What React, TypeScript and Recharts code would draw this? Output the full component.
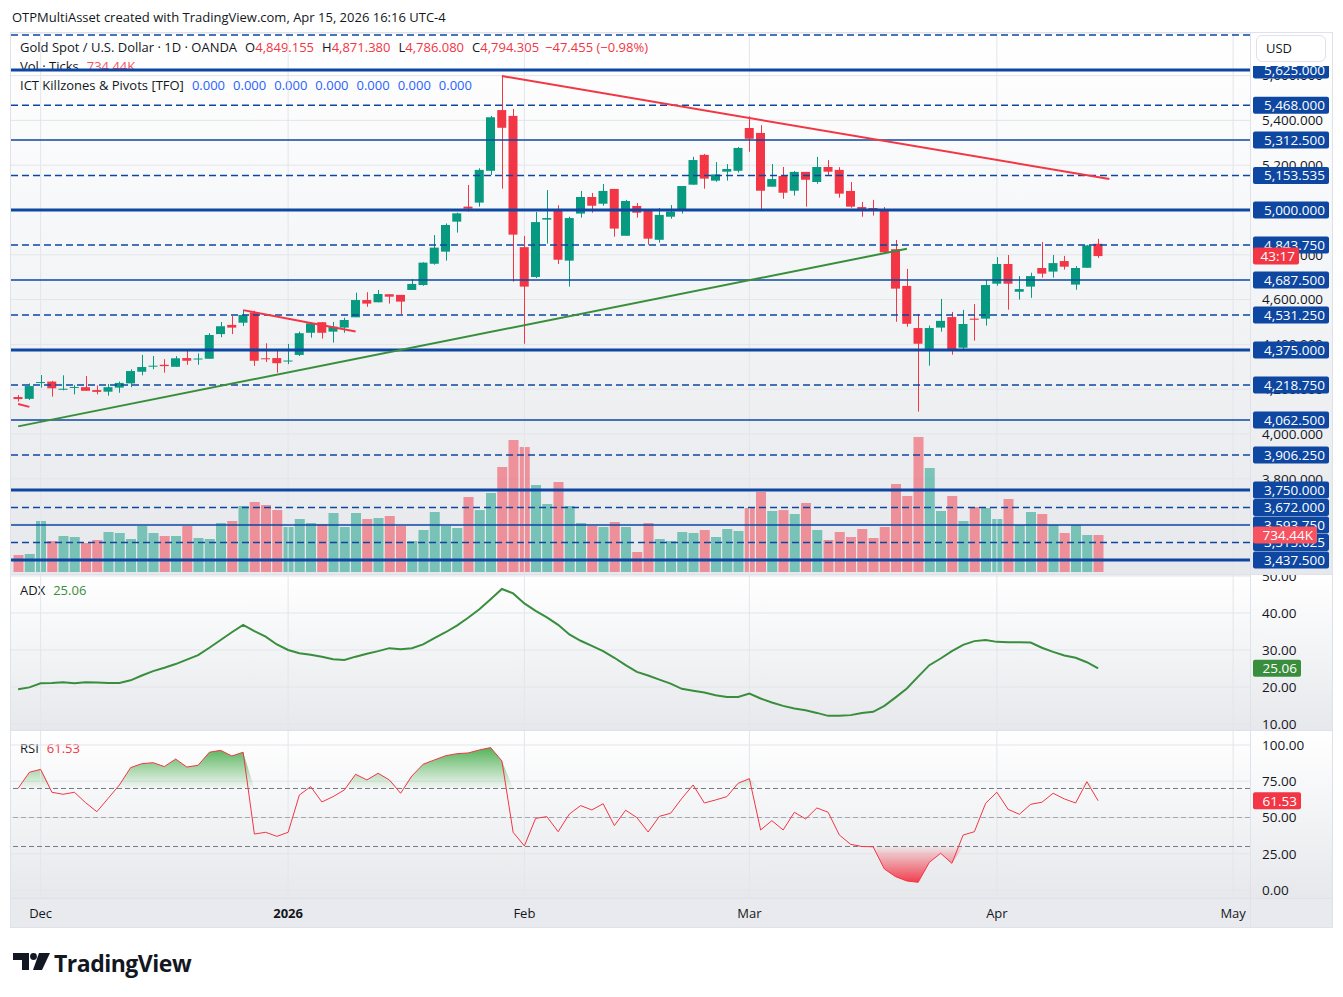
import React from 'react';
import {
  ComposedChart,
  Bar,
  Line,
  Area,
  XAxis,
  YAxis,
  CartesianGrid,
  ReferenceLine,
  Cell,
} from 'recharts';

const FONT = '"Open Sans", Roboto, "Noto Sans", "DejaVu Sans", Arial, sans-serif';
const TEXT = '#131722';
const UP = '#089981';
const DOWN = '#f23645';
const UP_VOL = 'rgba(8, 153, 129, 0.5)';
const DOWN_VOL = 'rgba(242, 54, 69, 0.5)';
const VOL_TAG = '#f7525f';
const PIVOT = '#0d47a1';
const ADX_COLOR = '#388e3c';
const GRID = '#e3e5eb';
const FRAME = '#dfe2ea';
const TFO_BLUE = '#2962ff';

// XAUUSD daily bars, Nov 27 2025 .. Apr 15 2026
const opens = [
  4165, 4157, 4228, 4234, 4199, 4207, 4209, 4196, 4189, 4207,
  4226, 4278, 4302, 4309, 4300, 4339, 4334, 4336, 4446, 4487,
  4497, 4543, 4338, 4339, 4325, 4353, 4452, 4499, 4457, 4475,
  4521, 4598, 4588, 4624, 4621, 4643, 4665, 4760, 4814, 4948,
  5015, 5033, 5175, 5446, 5420, 4834, 4701, 4957, 4997, 4774,
  4984, 5058, 5028, 5094, 4885, 5018, 4997, 4867, 4970, 4997,
  5113, 5246, 5131, 5171, 5175, 5366, 5344, 5104, 5152, 5086,
  5170, 5125, 5192, 5179, 5085, 5013, 5009, 5001, 4825, 4661,
  4473, 4380, 4475, 4522, 4385, 4515, 4515, 4671, 4759, 4635,
  4658, 4741, 4725, 4772, 4667, 4742, 4849.155,
];
const highs = [
  4174, 4226, 4263, 4237, 4262, 4219, 4259, 4217, 4223, 4234,
  4289, 4353, 4348, 4334, 4348, 4375, 4360, 4450, 4500, 4527,
  4550, 4550, 4405, 4375, 4402, 4457, 4497, 4500, 4500, 4519,
  4631, 4633, 4643, 4624, 4621, 4692, 4767, 4888, 4940, 4988,
  5112, 5186, 5420, 5598, 5451, 4884, 4991, 5089, 5021, 4970,
  5085, 5076, 5116, 5094, 5045, 5031, 5001, 5009, 5022, 5107,
  5237, 5250, 5214, 5205, 5281, 5418, 5379, 5205, 5192, 5174,
  5170, 5237, 5223, 5191, 5125, 5036, 5045, 5013, 4866, 4737,
  4536, 4484, 4603, 4545, 4554, 4580, 4688, 4790, 4799, 4705,
  4720, 4857, 4799, 4795, 4750, 4844, 4871.38,
];
const lows = [
  4145, 4152, 4207, 4167, 4195, 4177, 4192, 4177, 4171, 4184,
  4209, 4262, 4289, 4274, 4300, 4309, 4309, 4336, 4432, 4446,
  4482, 4304, 4321, 4274, 4312, 4348, 4430, 4426, 4408, 4452,
  4521, 4568, 4588, 4582, 4536, 4643, 4662, 4756, 4774, 4899,
  4993, 5015, 5156, 5095, 4680, 4403, 4696, 4850, 4759, 4658,
  4966, 4988, 5019, 4881, 4885, 4966, 4845, 4854, 4961, 4984,
  5113, 5095, 5126, 5131, 5167, 5260, 4997, 5104, 5050, 5064,
  5015, 5117, 5152, 5055, 5010, 4970, 4975, 4807, 4501, 4479,
  4100, 4305, 4457, 4354, 4375, 4417, 4484, 4662, 4555, 4600,
  4608, 4698, 4698, 4734, 4644, 4742, 4786.08,
];
const closes = [
  4156, 4214, 4232, 4204, 4202, 4210, 4193, 4188, 4209, 4228,
  4281, 4299, 4305, 4303, 4338, 4327, 4337, 4442, 4481, 4475,
  4531, 4327, 4334, 4316, 4328, 4450, 4494, 4452, 4479, 4509,
  4598, 4582, 4625, 4613, 4591, 4670, 4765, 4832, 4933, 4985,
  5006, 5179, 5414, 5367, 4890, 4658, 4946, 4964, 4778, 4964,
  5058, 5019, 5085, 4917, 5040, 4988, 4872, 4978, 4993, 5107,
  5223, 5140, 5159, 5183, 5277, 5318, 5086, 5138, 5077, 5170,
  5135, 5192, 5171, 5073, 5015, 5003, 5003, 4811, 4649, 4492,
  4403, 4473, 4505, 4376, 4491, 4510, 4665, 4759, 4671, 4647,
  4705, 4716, 4763, 4747, 4741, 4841.76, 4794.305,
];
// tick volume, thousands
const volumesK = [
  337, 357, 1012, 615, 715, 695, 575, 635, 794, 774,
  655, 913, 774, 715, 715, 913, 675, 655, 973, 1012,
  1310, 1390, 1330, 1230, 893, 1052, 973, 953, 1171, 893,
  1171, 1052, 1072, 1112, 913, 615, 834, 1191, 913, 873,
  1489, 1230, 1568, 2084, 2620, 2481, 1727, 1350, 1786, 1310,
  973, 913, 893, 992, 893, 397, 973, 655, 615, 794,
  774, 834, 695, 853, 814, 1270, 1588, 1211, 1230, 1151,
  1370, 834, 635, 794, 695, 853, 675, 893, 1747, 1509,
  2680, 2064, 1211, 1509, 1012, 1290, 1270, 1052, 1449, 933,
  1191, 1151, 933, 774, 933, 734, 734.44,
];
const adxValues = [
  19.4, 19.9, 21.0, 21.1, 21.3, 21.0, 21.3, 21.2, 21.1, 21.1,
  21.8, 23.1, 24.3, 25.2, 26.2, 27.4, 28.6, 30.6, 32.7, 34.8,
  36.8, 35.1, 33.6, 31.5, 30.0, 29.1, 28.7, 28.2, 27.5, 27.3,
  28.2, 29.0, 29.7, 30.5, 30.2, 30.5, 31.5, 33.2, 34.8, 36.6,
  38.7, 41.0, 43.7, 46.5, 45.3, 42.6, 40.6, 38.8, 36.8, 34.2,
  32.5, 31.1, 29.7, 27.9, 25.9, 24.1, 23.1, 22.0, 20.9, 19.5,
  19.0, 18.5, 17.8, 17.3, 17.3, 18.2, 16.9, 15.8, 14.9, 14.2,
  13.7, 13.0, 12.2, 12.2, 12.4, 13.0, 13.3, 14.9, 17.2, 19.6,
  22.8, 25.9, 27.7, 29.7, 31.4, 32.4, 32.7, 32.2, 32.1, 32.1,
  32.0, 30.6, 29.5, 28.5, 27.9, 26.7, 25.06,
];
const rsiValues = [
  70.1, 81.2, 83.2, 67.4, 66.0, 67.4, 60.2, 54.0, 63.2, 72.4,
  84.4, 87.1, 87.8, 85.1, 90.3, 84.8, 86.0, 95.0, 96.3, 92.4,
  95.0, 38.6, 39.8, 37.0, 39.8, 65.5, 71.3, 60.7, 64.4, 69.0,
  79.8, 75.9, 80.5, 75.9, 66.7, 78.6, 86.7, 89.7, 92.6, 94.0,
  94.5, 96.6, 98.2, 89.0, 39.8, 30.4, 49.4, 50.6, 40.2, 52.4,
  58.2, 55.2, 59.5, 44.4, 55.0, 49.9, 40.0, 50.8, 52.9, 63.2,
  72.4, 60.0, 62.1, 64.4, 73.6, 76.8, 41.4, 47.8, 41.4, 53.6,
  49.0, 56.6, 53.6, 37.9, 31.5, 30.0, 29.8, 14.5, 9.2, 6.2,
  5.3, 19.1, 25.3, 18.4, 37.9, 40.2, 59.8, 67.4, 55.6, 52.2,
  59.1, 60.5, 66.7, 62.8, 60.0, 74.7, 61.53,
];
const tfoValues = [0, 0, 0, 0, 0, 0, 0];

// empty daily slots to the start of May
const futureBars = 13;
const monthTicks = [2, 24, 45, 65, 87, 108];
const monthLabels = ['Dec', '2026', 'Feb', 'Mar', 'Apr', 'May'];

const priceTicks = [3600, 3800, 4000, 4200, 4400, 4600, 4800, 5000, 5200, 5400, 5600];
const adxTicks = [10, 20, 30, 40, 50];
const rsiTicks = [0, 25, 50, 75, 100];

// ICT pivot levels
const pivotsMajor = [5625, 5000, 4375, 3750, 3437.5];
const pivotsMinor = [5312.5, 4687.5, 4062.5, 3593.75];
const pivotsDashed = [5781.25, 5468, 5153.535, 4843.75, 4531.25, 4218.75, 3906.25, 3672, 3515.625];

// hand-drawn trend lines: [bar index, price]
const resistanceLine = [[43, 5598], [97, 5138]];
const supportLine = [[0, 4034], [79, 4827]];
const novLine = [[0, 4134], [1, 4121]];
const decLine = [[20, 4553], [30, 4458]];

const countdown = '43:17';

// pane geometry
const FRAME_W = 1323;
const PLOT_W = 1240;
const AXIS_W = 83;
const MAIN_TOP = 33;
const MAIN_H = 542;
const ADX_TOP = 575;
const ADX_H = 155;
const RSI_TOP = 730;
const RSI_H = 168;
const TIME_H = 30;
const X_PAD = { left: 2.5, right: 0 };
const NO_MARGIN = { top: 0, right: 0, bottom: 0, left: 0 };
const PRICE_DOMAIN: [number, number] = [3370.6, 5790.1];
const VOL_DOMAIN: [number, number] = [-59.6, 10699];
const ADX_DOMAIN: [number, number] = [8.38, 50.27];
const RSI_DOMAIN: [number, number] = [-5.52, 110.34];

const fmt3 = (v: number) =>
  v.toLocaleString('en-US', { minimumFractionDigits: 3, maximumFractionDigits: 3 });
const fmt2 = (v: number) => v.toFixed(2);
const fmtK = (v: number) => `${v.toFixed(2)}K`;

const last = opens.length - 1;

const rows: any[] = Array.from({ length: opens.length + futureBars }, (_, i) => {
  const r: any = { i };
  if (i < opens.length) {
    r.o = opens[i];
    r.h = highs[i];
    r.l = lows[i];
    r.c = closes[i];
    r.range = [lows[i], highs[i]];
    r.v = volumesK[i];
    r.adx = adxValues[i];
    r.rsi = rsiValues[i];
    r.rsiHi = [70, Math.max(70, rsiValues[i])];
    r.rsiLo = [Math.min(30, rsiValues[i]), 30];
  }
  return r;
});
const putLine = (key: string, pts: number[][]) => {
  pts.forEach(([i, p]) => {
    rows[i][key] = p;
  });
};
putLine('resistance', resistanceLine);
putLine('support', supportLine);
putLine('novLine', novLine);
putLine('decLine', decLine);

const layer: React.CSSProperties = { position: 'absolute', left: 0, top: 0 };
const paneBg = 'linear-gradient(to bottom, #ffffff 0%, #f4f5f7 45%, #e7e8eb 100%)';

function Candle(props: any) {
  const { x, y, width, height, payload } = props;
  if (!payload || payload.o == null || height == null) return null;
  const { o, h, l, c } = payload;
  const color = c >= o ? UP : DOWN;
  const k = h > l ? height / (h - l) : 0;
  const yO = y + (h - o) * k;
  const yC = y + (h - c) * k;
  const top = Math.min(yO, yC);
  const bh = Math.max(1, Math.abs(yO - yC));
  const cx = Math.round(x + width / 2) + 0.5;
  return (
    <g>
      <line x1={cx} x2={cx} y1={y} y2={y + height} stroke={color} strokeWidth={1} />
      <rect x={x} y={top} width={width} height={bh} fill={color} />
    </g>
  );
}

function AxisTag({ viewBox, txt, bg, w = 76 }: any) {
  if (!viewBox) return null;
  const x = viewBox.x + viewBox.width + 3;
  const y = viewBox.y;
  return (
    <g>
      <rect x={x} y={y - 8.5} width={w} height={17} rx={2} fill={bg} />
      <text
        x={x + w - 4}
        y={y}
        dy="0.36em"
        textAnchor="end"
        fontSize={13.5}
        fontFamily={FONT}
        fill="#ffffff"
      >
        {txt}
      </text>
    </g>
  );
}

const axisTick = { fill: TEXT, fontSize: 13.5, fontFamily: FONT };

function PriceLegend() {
  const prev = closes[last - 1];
  const chg = closes[last] - prev;
  const pct = (chg / prev) * 100;
  const sign = chg < 0 ? '\u2212' : '+';
  const col = chg < 0 ? DOWN : UP;
  const item = (k: string, v: number) => (
    <span style={{ marginLeft: 8 }}>
      {k}
      <span style={{ color: col }}>{fmt3(v)}</span>
    </span>
  );
  return (
    <div
      style={{
        position: 'absolute',
        left: 10,
        top: 4.5,
        fontSize: 13,
        lineHeight: '19px',
        color: TEXT,
        whiteSpace: 'nowrap',
      }}
    >
      <div>
        Gold Spot / U.S. Dollar · 1D · OANDA
        {item('O', opens[last])}
        {item('H', highs[last])}
        {item('L', lows[last])}
        {item('C', closes[last])}
        <span style={{ color: col, marginLeft: 6 }}>
          {sign}
          {fmt3(Math.abs(chg))} ({sign}
          {Math.abs(pct).toFixed(2)}%)
        </span>
      </div>
      <div>
        Vol · Ticks<span style={{ color: VOL_TAG, marginLeft: 8 }}>{fmtK(volumesK[last])}</span>
      </div>
      <div>
        ICT Killzones &amp; Pivots [TFO]
        {tfoValues.map((v, k) => (
          <span key={k} style={{ color: TFO_BLUE, marginLeft: 8 }}>
            {fmt3(v)}
          </span>
        ))}
      </div>
    </div>
  );
}

function MainPane() {
  const allPivots = [...pivotsMajor, ...pivotsMinor, ...pivotsDashed].sort((a, b) => b - a);
  return (
    <div
      style={{
        position: 'absolute',
        left: 10,
        top: MAIN_TOP,
        width: FRAME_W,
        height: MAIN_H,
        overflow: 'hidden',
        background: paneBg,
      }}
    >
      <PriceLegend />
      {/* grid + volume */}
      <div style={layer}>
        <ComposedChart width={PLOT_W} height={MAIN_H} data={rows} margin={NO_MARGIN}>
          <XAxis dataKey="i" type="category" scale="band" padding={X_PAD} hide />
          <YAxis type="number" domain={PRICE_DOMAIN} ticks={priceTicks} allowDataOverflow hide />
          <YAxis yAxisId="vol" type="number" domain={VOL_DOMAIN} allowDataOverflow hide />
          <CartesianGrid vertical={false} stroke={GRID} />
          {monthTicks.map((m) => (
            <ReferenceLine key={`m${m}`} x={m} stroke={GRID} />
          ))}
          <Bar yAxisId="vol" dataKey="v" barSize={10} isAnimationActive={false}>
            {rows.map((r, k) => (
              <Cell key={k} fill={r.c >= r.o ? UP_VOL : DOWN_VOL} />
            ))}
          </Bar>
        </ComposedChart>
      </div>
      {/* price scale, pivots, trend lines, candles */}
      <div style={layer}>
        <ComposedChart width={FRAME_W} height={MAIN_H} data={rows} margin={NO_MARGIN}>
          <XAxis dataKey="i" type="category" scale="band" padding={X_PAD} hide />
          <YAxis
            orientation="right"
            width={AXIS_W}
            type="number"
            domain={PRICE_DOMAIN}
            ticks={priceTicks}
            interval={0}
            allowDataOverflow
            axisLine={false}
            tickLine={false}
            tickSize={0}
            tickMargin={12}
            tick={axisTick}
            tickFormatter={fmt3}
          />
          {pivotsMajor.map((p) => (
            <ReferenceLine key={`a${p}`} y={p} stroke={PIVOT} strokeWidth={3} />
          ))}
          {pivotsMinor.map((p) => (
            <ReferenceLine key={`b${p}`} y={p} stroke={PIVOT} strokeWidth={1.5} />
          ))}
          {pivotsDashed.map((p) => (
            <ReferenceLine key={`c${p}`} y={p} stroke={PIVOT} strokeWidth={1.5} strokeDasharray="7 4" />
          ))}
          <Line dataKey="support" connectNulls stroke="#388e3c" strokeWidth={2} dot={false} activeDot={false} isAnimationActive={false} />
          <Line dataKey="resistance" connectNulls stroke={DOWN} strokeWidth={2} dot={false} activeDot={false} isAnimationActive={false} />
          <Line dataKey="novLine" connectNulls stroke={DOWN} strokeWidth={2} dot={false} activeDot={false} isAnimationActive={false} />
          <Line dataKey="decLine" connectNulls stroke={DOWN} strokeWidth={2} dot={false} activeDot={false} isAnimationActive={false} />
          <Bar dataKey="range" barSize={9} shape={(p: any) => <Candle {...p} />} isAnimationActive={false} />
        </ComposedChart>
      </div>
      {/* price-scale tags */}
      <div style={layer}>
        <ComposedChart width={FRAME_W} height={MAIN_H} data={rows} margin={NO_MARGIN}>
          <XAxis dataKey="i" type="category" scale="band" padding={X_PAD} hide />
          <YAxis
            orientation="right"
            width={AXIS_W}
            type="number"
            domain={PRICE_DOMAIN}
            allowDataOverflow
            tick={false}
            axisLine={false}
            tickLine={false}
          />
          <YAxis yAxisId="vol" type="number" domain={VOL_DOMAIN} allowDataOverflow hide />
          <Line dataKey="c" stroke="none" dot={false} activeDot={false} isAnimationActive={false} />
          {allPivots.map((p) => (
            <ReferenceLine
              key={`t${p}`}
              y={p}
              stroke="none"
              label={(lp: any) => <AxisTag viewBox={lp.viewBox} txt={fmt3(p)} bg={PIVOT} />}
            />
          ))}
          <ReferenceLine
            yAxisId="vol"
            y={volumesK[last]}
            stroke="none"
            label={(lp: any) => <AxisTag viewBox={lp.viewBox} txt={fmtK(volumesK[last])} bg={VOL_TAG} w={64} />}
          />
          <ReferenceLine
            y={closes[last]}
            stroke="none"
            label={(lp: any) => <AxisTag viewBox={lp.viewBox} txt={countdown} bg={DOWN} w={46} />}
          />
        </ComposedChart>
      </div>
      {/* currency button strip */}
      <div
        style={{
          position: 'absolute',
          left: PLOT_W + 1,
          top: 0,
          width: AXIS_W - 1,
          height: 33,
          background: '#ffffff',
        }}
      />
      <div
        style={{
          position: 'absolute',
          left: 1246,
          top: 2,
          width: 70,
          height: 27,
          boxSizing: 'border-box',
          border: `1px solid ${FRAME}`,
          borderRadius: 6,
          background: '#ffffff',
          fontSize: 13,
          lineHeight: '25px',
          paddingLeft: 9,
          color: TEXT,
        }}
      >
        USD
      </div>
    </div>
  );
}

function PaneTitle({ name, value, color, top }: any) {
  return (
    <div
      style={{
        position: 'absolute',
        left: 10,
        top,
        fontSize: 13,
        lineHeight: '19px',
        color: TEXT,
        whiteSpace: 'nowrap',
      }}
    >
      {name}
      <span style={{ color, marginLeft: 8 }}>{fmt2(value)}</span>
    </div>
  );
}

function AdxPane() {
  return (
    <div
      style={{
        position: 'absolute',
        left: 10,
        top: ADX_TOP,
        width: FRAME_W,
        height: ADX_H,
        overflow: 'hidden',
        background: paneBg,
      }}
    >
      <PaneTitle name="ADX" value={adxValues[last]} color={ADX_COLOR} top={5.5} />
      <div style={layer}>
        <ComposedChart width={FRAME_W} height={ADX_H} data={rows} margin={NO_MARGIN}>
          <XAxis dataKey="i" type="category" scale="band" padding={X_PAD} hide />
          <YAxis
            orientation="right"
            width={AXIS_W}
            type="number"
            domain={ADX_DOMAIN}
            ticks={adxTicks}
            interval={0}
            allowDataOverflow
            axisLine={false}
            tickLine={false}
            tickSize={0}
            tickMargin={12}
            tick={axisTick}
            tickFormatter={fmt2}
          />
          <CartesianGrid vertical={false} stroke={GRID} />
          {monthTicks.map((m) => (
            <ReferenceLine key={`m${m}`} x={m} stroke={GRID} />
          ))}
          <Line dataKey="adx" stroke={ADX_COLOR} strokeWidth={2} dot={false} activeDot={false} isAnimationActive={false} />
          <ReferenceLine
            y={adxValues[last]}
            stroke="none"
            label={(lp: any) => <AxisTag viewBox={lp.viewBox} txt={fmt2(adxValues[last])} bg={ADX_COLOR} w={48} />}
          />
        </ComposedChart>
      </div>
    </div>
  );
}

function RsiPane() {
  return (
    <div
      style={{
        position: 'absolute',
        left: 10,
        top: RSI_TOP,
        width: FRAME_W,
        height: RSI_H + TIME_H,
        overflow: 'hidden',
      }}
    >
      <div style={{ ...layer, width: FRAME_W, height: RSI_H, background: paneBg }} />
      <div style={{ ...layer, top: RSI_H, width: FRAME_W, height: TIME_H, background: '#e9eaed' }} />
      <PaneTitle name="RSI" value={rsiValues[last]} color={DOWN} top={8.5} />
      <div style={layer}>
        <ComposedChart
          width={FRAME_W}
          height={RSI_H + TIME_H}
          data={rows}
          margin={{ top: 0, right: 0, bottom: TIME_H, left: 0 }}
        >
          <defs>
            <linearGradient id="rsiUpFill" x1="0" y1="0" x2="0" y2="1">
              <stop offset="0%" stopColor="#4caf50" stopOpacity={0.95} />
              <stop offset="100%" stopColor="#4caf50" stopOpacity={0.02} />
            </linearGradient>
            <linearGradient id="rsiDownFill" x1="0" y1="0" x2="0" y2="1">
              <stop offset="0%" stopColor="#f23645" stopOpacity={0.05} />
              <stop offset="100%" stopColor="#f23645" stopOpacity={0.95} />
            </linearGradient>
          </defs>
          <XAxis dataKey="i" type="category" scale="band" padding={X_PAD} hide />
          <YAxis
            orientation="right"
            width={AXIS_W}
            type="number"
            domain={RSI_DOMAIN}
            ticks={rsiTicks}
            interval={0}
            allowDataOverflow
            axisLine={false}
            tickLine={false}
            tickSize={0}
            tickMargin={12}
            tick={axisTick}
            tickFormatter={fmt2}
          />
          <CartesianGrid vertical={false} stroke={GRID} />
          {monthTicks.map((m, k) => (
            <ReferenceLine
              key={`m${m}`}
              x={m}
              stroke={GRID}
              label={(lp: any) =>
                lp.viewBox ? (
                  <text
                    x={lp.viewBox.x}
                    y={lp.viewBox.y + lp.viewBox.height + 15}
                    dy="0.36em"
                    textAnchor="middle"
                    fontSize={13}
                    fontFamily={FONT}
                    fontWeight={monthLabels[k] === '2026' ? 700 : 400}
                    fill={TEXT}
                  >
                    {monthLabels[k]}
                  </text>
                ) : null
              }
            />
          ))}
          <ReferenceLine y={70} stroke="#787b86" strokeDasharray="5 3" />
          <ReferenceLine y={50} stroke="#a3a6af" strokeDasharray="5 3" />
          <ReferenceLine y={30} stroke="#787b86" strokeDasharray="5 3" />
          <Area dataKey="rsiHi" stroke="none" fill="url(#rsiUpFill)" fillOpacity={1} dot={false} activeDot={false} isAnimationActive={false} />
          <Area dataKey="rsiLo" stroke="none" fill="url(#rsiDownFill)" fillOpacity={1} dot={false} activeDot={false} isAnimationActive={false} />
          <Line dataKey="rsi" stroke={DOWN} strokeWidth={1} dot={false} activeDot={false} isAnimationActive={false} />
          <ReferenceLine
            y={rsiValues[last]}
            stroke="none"
            label={(lp: any) => <AxisTag viewBox={lp.viewBox} txt={fmt2(rsiValues[last])} bg={DOWN} w={48} />}
          />
        </ComposedChart>
      </div>
    </div>
  );
}

function Logo() {
  return (
    <div style={{ position: 'absolute', left: 12, top: 950, height: 30 }}>
      <svg width={40} height={26} style={{ position: 'absolute', left: 0, top: 2 }}>
        <path d="M1 1 H17 V18 H10 V8 H1 Z" fill={TEXT} />
        <circle cx={21.5} cy={4.5} r={3.4} fill={TEXT} />
        <path d="M27 1 H38 L30 18 H21 Z" fill={TEXT} />
      </svg>
      <div
        style={{
          position: 'absolute',
          left: 42,
          top: 0,
          fontSize: 23,
          fontWeight: 700,
          lineHeight: '26px',
          color: TEXT,
          letterSpacing: -0.5,
          whiteSpace: 'nowrap',
        }}
      >
        TradingView
      </div>
    </div>
  );
}

export default function App() {
  const hLine = (top: number): React.CSSProperties => ({
    position: 'absolute',
    left: 10,
    top,
    width: FRAME_W,
    height: 1,
    background: FRAME,
  });
  return (
    <div
      style={{
        position: 'absolute',
        left: 0,
        top: 0,
        width: 1343,
        height: 997,
        background: '#ffffff',
        fontFamily: FONT,
        color: TEXT,
        overflow: 'hidden',
      }}
    >
      <div
        style={{
          position: 'absolute',
          left: 12,
          top: 8,
          fontSize: 13,
          lineHeight: '18px',
          whiteSpace: 'nowrap',
        }}
      >
        OTPMultiAsset created with TradingView.com, Apr 15, 2026 16:16 UTC-4
      </div>
      <MainPane />
      <AdxPane />
      <RsiPane />
      <div style={hLine(ADX_TOP - 1)} />
      <div style={hLine(RSI_TOP)} />
      <div style={hLine(RSI_TOP + RSI_H)} />
      <div
        style={{
          position: 'absolute',
          left: 10 + PLOT_W,
          top: MAIN_TOP,
          width: 1,
          height: RSI_TOP + RSI_H + TIME_H - MAIN_TOP,
          background: FRAME,
        }}
      />
      <div
        style={{
          position: 'absolute',
          left: 10,
          top: MAIN_TOP - 1,
          width: FRAME_W,
          height: RSI_TOP + RSI_H + TIME_H - MAIN_TOP + 1,
          border: `1px solid ${FRAME}`,
          boxSizing: 'border-box',
          pointerEvents: 'none',
        }}
      />
      <Logo />
    </div>
  );
}
